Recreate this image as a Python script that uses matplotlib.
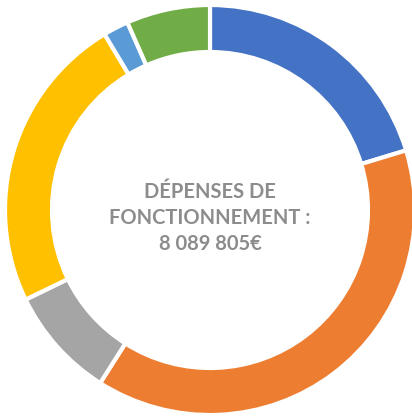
import matplotlib.pyplot as plt

# shares of the operating expenses (percent)
labels = ["Bleu", "Orange", "Gris", "Jaune", "Bleu clair", "Vert"]
shares = [20.3, 38.7, 8.8, 23.6, 2.0, 6.6]
colors = ["#4472C4", "#ED7D31", "#A5A5A5", "#FFC000", "#5B9BD5", "#70AD47"]
center_text = "DÉPENSES DE\nFONCTIONNEMENT :\n8 089 805€"

fig = plt.figure(figsize=(4.12, 4.16), dpi=100)
ax = fig.add_axes([0, 0, 1, 1])

ax.pie(shares, colors=colors, startangle=90, counterclock=False,
       center=(210, 206), radius=205, frame=True,
       wedgeprops=dict(width=47, edgecolor="white", linewidth=3))
ax.set_xlim(0, 412)
ax.set_ylim(0, 416)
ax.set_aspect("equal")
ax.axis("off")

ax.text(210, 198, center_text, ha="center", va="center", fontsize=14.5,
        fontweight="bold", color="#8C8C8C", linespacing=1.38,
        family=["Lato", "DejaVu Sans"])

fig.savefig("out.png", dpi=100)
